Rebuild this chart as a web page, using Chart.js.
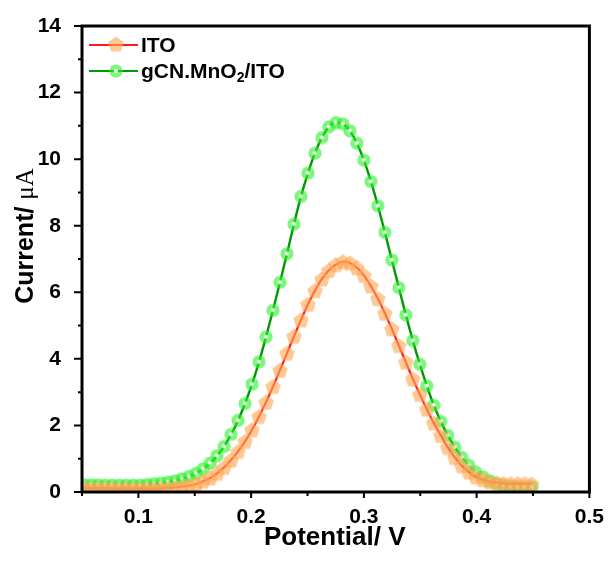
<!DOCTYPE html>
<html>
<head>
<meta charset="utf-8">
<script src="https://cdn.jsdelivr.net/npm/chart.js@4/dist/chart.umd.min.js"></script>
<style>
  html, body { margin: 0; padding: 0; background: #fff; }
  #wrap { position: relative; width: 609px; height: 562px; }
</style>
</head>
<body>
<div id="wrap"><canvas id="c" width="609" height="562"></canvas></div>
<script>
// ---- data ----
const potential = [
  0.052, 0.0582, 0.0644, 0.0706, 0.0768, 0.083, 0.0892, 0.0954, 0.1016, 0.1078,
  0.114, 0.1202, 0.1264, 0.1326, 0.1388, 0.145, 0.1512, 0.1574, 0.1636, 0.1698,
  0.176, 0.1822, 0.1884, 0.1946, 0.2008, 0.207, 0.2132, 0.2194, 0.2256, 0.2318,
  0.238, 0.2442, 0.2504, 0.2566, 0.2628, 0.269, 0.2752, 0.2814, 0.2876, 0.2938,
  0.3, 0.3062, 0.3124, 0.3186, 0.3248, 0.331, 0.3372, 0.3434, 0.3496, 0.3558,
  0.362, 0.3682, 0.3744, 0.3806, 0.3868, 0.393, 0.3992, 0.4054, 0.4116, 0.4178,
  0.424, 0.4302, 0.4364, 0.4426, 0.4488
];
const itoCurrent = [
  0.12, 0.12, 0.11, 0.11, 0.11, 0.10, 0.10, 0.10, 0.10, 0.10,
  0.10, 0.11, 0.12, 0.14, 0.16, 0.19, 0.24, 0.32, 0.42, 0.56,
  0.74, 0.96, 1.22, 1.52, 1.87, 2.27, 2.70, 3.17, 3.66, 4.17,
  4.68, 5.17, 5.64, 6.05, 6.40, 6.66, 6.83, 6.92, 6.88, 6.74,
  6.51, 6.19, 5.81, 5.37, 4.90, 4.40, 3.90, 3.40, 2.93, 2.49,
  2.07, 1.70, 1.34, 1.04, 0.79, 0.60, 0.46, 0.37, 0.31, 0.28,
  0.26, 0.25, 0.25, 0.25, 0.24
];
const gcnCurrent = [
  0.22, 0.22, 0.22, 0.21, 0.21, 0.21, 0.21, 0.21, 0.21, 0.23,
  0.25, 0.27, 0.30, 0.34, 0.40, 0.47, 0.56, 0.70, 0.87, 1.09,
  1.37, 1.73, 2.15, 2.66, 3.24, 3.91, 4.66, 5.46, 6.30, 7.16,
  8.05, 8.88, 9.58, 10.18, 10.65, 10.97, 11.10, 11.06, 10.85, 10.48,
  9.97, 9.33, 8.60, 7.80, 6.97, 6.14, 5.32, 4.55, 3.84, 3.19,
  2.61, 2.12, 1.70, 1.35, 1.04, 0.80, 0.60, 0.46, 0.34, 0.25,
  0.20, 0.17, 0.15, 0.15, 0.15
];
const seriesNames = ['ITO', 'gCN.MnO', '2', '/ITO'];
const xTickValues = [0.1, 0.2, 0.3, 0.4, 0.5];
const xTickLabels = ['0.1', '0.2', '0.3', '0.4', '0.5'];
const xMinorValues = [0.05, 0.15, 0.25, 0.35, 0.45];
const yTickValues = [0, 2, 4, 6, 8, 10, 12, 14];
const yTickLabels = ['0', '2', '4', '6', '8', '10', '12', '14'];
const yMinorValues = [1, 3, 5, 7, 9, 11, 13];
const xTitle = 'Potential/ V';
const yTitleMain = 'Current/ ';
const yTitleUnit = '\u03BCA';

// ---- marker images ----
function pentagonMarker() {
  const c = document.createElement('canvas');
  c.width = 18; c.height = 18;
  const g = c.getContext('2d');
  g.beginPath();
  for (let i = 0; i < 5; i++) {
    const a = -Math.PI / 2 + i * 2 * Math.PI / 5;
    const px = 9 + 8.2 * Math.cos(a), py = 9.8 + 8.2 * Math.sin(a);
    if (i === 0) g.moveTo(px, py); else g.lineTo(px, py);
  }
  g.closePath();
  g.fillStyle = 'rgba(255,168,85,0.62)';
  g.fill();
  return c;
}
function sphereMarker() {
  const c = document.createElement('canvas');
  c.width = 14; c.height = 14;
  const g = c.getContext('2d');
  g.beginPath(); g.arc(7, 7, 6.6, 0, Math.PI * 2);
  g.fillStyle = 'rgba(40,240,40,0.6)'; g.fill();
  const rg = g.createRadialGradient(6.8, 6.8, 0, 6.8, 6.8, 2.6);
  rg.addColorStop(0, 'rgba(255,255,255,1)');
  rg.addColorStop(0.6, 'rgba(255,255,255,0.85)');
  rg.addColorStop(1, 'rgba(255,255,255,0)');
  g.beginPath(); g.arc(6.8, 6.8, 2.6, 0, Math.PI * 2);
  g.fillStyle = rg; g.fill();
  return c;
}
const pentImg = pentagonMarker();
const sphImg = sphereMarker();

const SANS = '"Liberation Sans", Arial, sans-serif';
const SERIF = '"Liberation Serif", "Times New Roman", serif';

const decor = {
  id: 'decor',
  afterDraw(chart) {
    const ctx = chart.ctx;
    const a = chart.chartArea;
    const xs = chart.scales.x, ys = chart.scales.y;
    ctx.save();
    // ticks (outward)
    ctx.strokeStyle = '#000';
    ctx.lineWidth = 2;
    ctx.beginPath();
    xTickValues.forEach(v => { const p = xs.getPixelForValue(v); ctx.moveTo(p, a.bottom); ctx.lineTo(p, a.bottom + 6); });
    xMinorValues.forEach(v => { const p = xs.getPixelForValue(v); ctx.moveTo(p, a.bottom); ctx.lineTo(p, a.bottom + 4); });
    yTickValues.forEach(v => { const p = ys.getPixelForValue(v); ctx.moveTo(a.left, p); ctx.lineTo(a.left - 8, p); });
    yMinorValues.forEach(v => { const p = ys.getPixelForValue(v); ctx.moveTo(a.left, p); ctx.lineTo(a.left - 4, p); });
    ctx.stroke();
    // frame
    ctx.lineWidth = 3;
    ctx.strokeRect(a.left, a.top, a.right - a.left, a.bottom - a.top);

    // legend
    const lx0 = a.left + 7, lx1 = a.left + 56, mx = a.left + 34;
    const r1 = a.top + 19, r2 = a.top + 45;
    ctx.lineWidth = 2.2;
    ctx.strokeStyle = '#ff1a1a';
    ctx.beginPath(); ctx.moveTo(lx0, r1); ctx.lineTo(lx1, r1); ctx.stroke();
    ctx.drawImage(pentImg, mx - 9, r1 - 10);
    ctx.strokeStyle = '#009a00';
    ctx.beginPath(); ctx.moveTo(lx0, r2); ctx.lineTo(lx1, r2); ctx.stroke();
    ctx.drawImage(sphImg, mx - 7, r2 - 7);
    ctx.fillStyle = '#000';
    ctx.textBaseline = 'middle';
    ctx.textAlign = 'left';
    ctx.font = 'bold 21px ' + SANS;
    const tx = lx1 + 3;
    ctx.fillText(seriesNames[0], tx, r1 + 1);
    ctx.fillText(seriesNames[1], tx, r2 + 1);
    let w = ctx.measureText(seriesNames[1]).width;
    ctx.font = 'bold 14px ' + SANS;
    ctx.fillText(seriesNames[2], tx + w, r2 + 7);
    const w2 = ctx.measureText(seriesNames[2]).width;
    ctx.font = 'bold 21px ' + SANS;
    ctx.fillText(seriesNames[3], tx + w + w2, r2 + 1);

    // x title
    ctx.textAlign = 'center';
    ctx.textBaseline = 'alphabetic';
    ctx.font = 'bold 26px ' + SANS;
    ctx.fillText(xTitle, (a.left + a.right) / 2 - 1, 545);

    // y title
    ctx.translate(33, 236);
    ctx.rotate(-Math.PI / 2);
    ctx.font = 'bold 25px ' + SANS;
    const wm = ctx.measureText(yTitleMain).width;
    ctx.font = '25px ' + SERIF;
    const wu = ctx.measureText(yTitleUnit).width;
    let sx = -(wm + wu) / 2;
    ctx.textAlign = 'left';
    ctx.font = 'bold 25px ' + SANS;
    ctx.fillText(yTitleMain, sx, 0);
    ctx.font = '25px ' + SERIF;
    ctx.fillText(yTitleUnit, sx + wm, 0);
    ctx.restore();
  }
};

const tickFont = { family: SANS, weight: 'bold', size: 21 };

new Chart(document.getElementById('c'), {
  type: 'line',
  data: {
    datasets: [
      {
        label: 'ITO',
        data: potential.map((x, i) => ({ x, y: itoCurrent[i] })),
        borderColor: '#ff1a1a',
        borderWidth: 2.2,
        pointStyle: pentImg,
        pointRadius: 8,
        cubicInterpolationMode: 'monotone',
        fill: false
      },
      {
        label: 'gCN.MnO2/ITO',
        data: potential.map((x, i) => ({ x, y: gcnCurrent[i] })),
        borderColor: '#009a00',
        borderWidth: 2.4,
        pointStyle: sphImg,
        pointRadius: 7,
        cubicInterpolationMode: 'monotone',
        fill: false
      }
    ]
  },
  options: {
    responsive: false,
    animation: false,
    devicePixelRatio: 1,
    layout: { padding: { top: 26, right: 16, left: 0, bottom: 0 } },
    plugins: { legend: { display: false }, tooltip: { enabled: false } },
    scales: {
      x: {
        type: 'linear', min: 0.05, max: 0.5,
        grid: { display: false },
        border: { display: false },
        afterBuildTicks(s) { s.ticks = xTickValues.map(v => ({ value: v })); },
        afterFit(s) { s.height = 70; },
        ticks: {
          font: tickFont, color: '#000', padding: 5, maxRotation: 0,
          callback(v) { const i = xTickValues.indexOf(v); return i >= 0 ? xTickLabels[i] : ''; }
        }
      },
      y: {
        type: 'linear', min: 0, max: 14,
        grid: { display: false },
        border: { display: false },
        afterBuildTicks(s) { s.ticks = yTickValues.map(v => ({ value: v })); },
        afterFit(s) { s.width = 82; },
        ticks: {
          font: tickFont, color: '#000', padding: 13,
          callback(v) { const i = yTickValues.indexOf(v); return i >= 0 ? yTickLabels[i] : ''; }
        }
      }
    }
  },
  plugins: [decor]
});
</script>
</body>
</html>
